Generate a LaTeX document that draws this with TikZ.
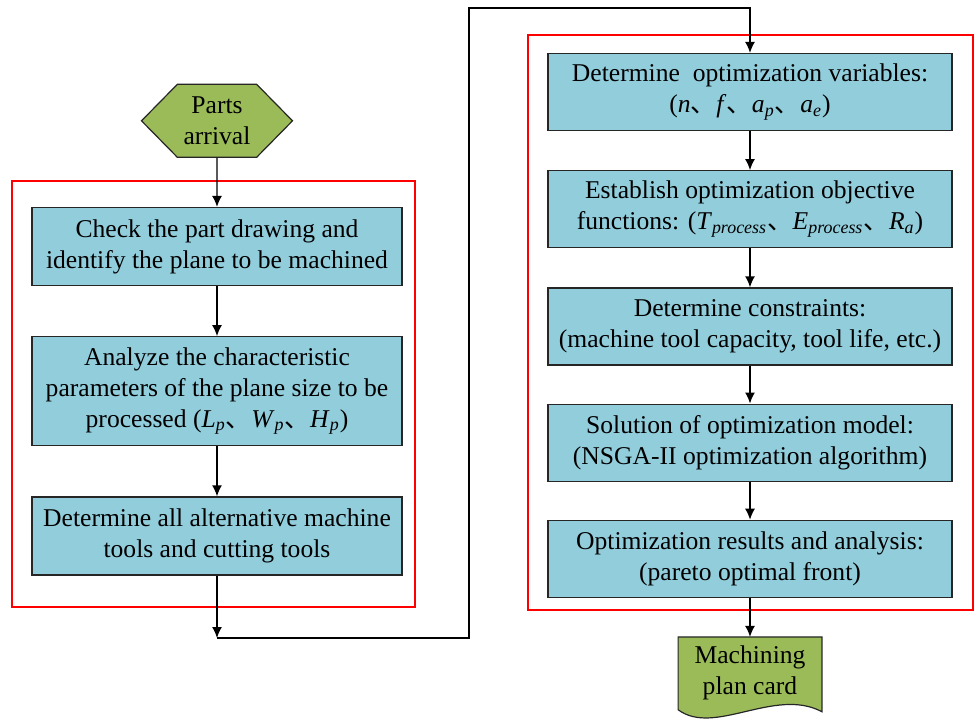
\documentclass[tikz,border=0pt]{standalone}
\usepackage{fontspec}
\setmainfont{Liberation Serif}
\newfontfamily\cjk{Noto Sans CJK SC}
\usetikzlibrary{positioning}
\usetikzlibrary{shapes.symbols}
\usetikzlibrary{arrows.meta}
\usetikzlibrary{backgrounds}
\definecolor{boxblue}{HTML}{92CDDC}
\definecolor{leafgreen}{HTML}{9BBB59}
\definecolor{framered}{HTML}{FF0000}
\newcommand{\dun}{{\cjk 、}}
\newcommand{\ivar}[2]{\textit{#1}\textsubscript{\textit{#2}}}
\tikzset{
	process/.style={
		rectangle,
		draw=black!85,
		fill=boxblue,
		align=center,
		line width=0.6pt,
		inner sep=2pt,
		font=\fontsize{12.8}{15.5}\selectfont
	},
	leftbox/.style={process, minimum width=185pt, minimum height=39pt},
	rightbox/.style={process, minimum width=202pt, minimum height=38.5pt},
	startsig/.style={
		signal,
		signal to=east and west,
		signal pointer angle=91,
		draw=black!85,
		fill=leafgreen,
		align=center,
		line width=0.6pt,
		minimum width=75.5pt,
		minimum height=36.5pt,
		inner sep=1pt,
		font=\fontsize{12.8}{15.5}\selectfont
	},
	docnode/.style={
		rectangle,
		align=center,
		minimum width=71.5pt,
		minimum height=36pt,
		inner sep=1pt,
		font=\fontsize{12.8}{15.5}\selectfont
	},
	link/.style={line width=0.7pt, -{Latex[length=5.5pt,width=5pt]}},
	frame/.style={draw=framered, line width=1pt}
}
\begin{document}
\begin{tikzpicture}[x=0.5pt, y=-0.5pt]
		\useasboundingbox (0,0) rectangle (975,718);
		% left column
		\draw node[leftbox] (Check) at (217,246.5) {Check the part drawing and\\ identify the plane to be machined};
		\draw node[leftbox, minimum height=54.5pt, below=25pt of Check] (Analyze) {Analyze the characteristic\\ parameters of the plane size to be\\ processed (\ivar{L}{p}\dun\ivar{W}{p}\dun\ivar{H}{p})};
		\draw node[leftbox, minimum height=39pt, below=25pt of Analyze] (Tools) {Determine all alternative machine\\ tools and cutting tools};
		\draw node[startsig, above=24.5pt of Check] (Parts) {Parts\\ arrival};
		
		% right column
		\draw node[rightbox] (Vars) at (750,92) {Determine~ optimization variables:\\ (\textit{n}\dun\textit{f}\dun\ivar{a}{p}\dun\ivar{a}{e})};
		\draw node[rightbox, below=19.5pt of Vars] (Objs) {Establish optimization objective\\ functions: (\ivar{T}{process}\dun\ivar{E}{process}\dun\ivar{R}{a})};
		\draw node[rightbox, below=19.5pt of Objs] (Cons) {Determine constraints:\\ (machine tool capacity, tool life, etc.)};
		\draw node[rightbox, below=19pt of Cons] (Solve) {Solution of optimization model:\\ (NSGA-II optimization algorithm)};
		\draw node[rightbox, below=19pt of Solve] (Result) {Optimization results and analysis:\\ (pareto optimal front)};
		\draw node[docnode, below=19.5pt of Result] (Card) {Machining\\ plan card};
		\begin{scope}[on background layer]
			\draw[line width=0.6pt, draw=black!85, fill=leafgreen] (Card.south west) -- (Card.north west) -- (Card.north east) -- ([yshift=-1pt]Card.south east) .. controls +(-47,-25) and +(36,27) .. (Card.south west) -- cycle;
		\end{scope}
		
		% red frames
		\draw[frame] (12,181) rectangle (415,607);
		\draw[frame] (528,35) rectangle (973,610);
		
		% connectors
		\coordinate (turn) at (217,638);
		\coordinate (over) at (469,8);
		\draw [link] (Parts) -- (Check);
		\draw [link] (Check) -- (Analyze);
		\draw [link] (Analyze) -- (Tools);
		\draw [link] (Tools) -- (turn);
		\draw [link] (turn) -| (over) -| (Vars.north);
		\draw [link] (Vars) -- (Objs);
		\draw [link] (Objs) -- (Cons);
		\draw [link] (Cons) -- (Solve);
		\draw [link] (Solve) -- (Result);
		\draw [link] (Result) -- (Card);
	\end{tikzpicture}
\end{document}
